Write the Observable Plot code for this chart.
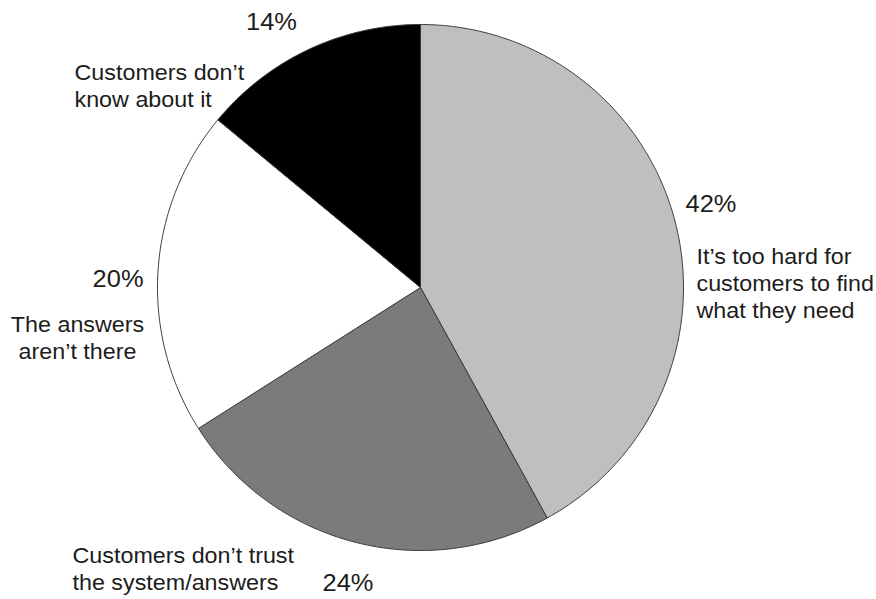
<!DOCTYPE html>
<html>
<head>
<meta charset="utf-8">
<script src="https://cdn.jsdelivr.net/npm/d3@7"></script>
<script src="https://cdn.jsdelivr.net/npm/@observablehq/plot@0.6"></script>
<style>
  html, body { margin: 0; padding: 0; background: #fff; }
  #chart svg { display: block; }
</style>
</head>
<body>
<div id="chart"></div>
<script>
// ---- data ----
const categories = [
  "It’s too hard for\ncustomers to find\nwhat they need",
  "Customers don’t trust\nthe system/answers",
  "The answers\naren’t there",
  "Customers don’t\nknow about it"
];
const values = [42, 24, 20, 14];
const percentLabels = values.map(v => v + "%");

// ---- styles / layout ----
const sliceColors = ["#bfbfbf", "#7b7b7b", "#ffffff", "#000000"];
const W = 876, H = 599;
const cx = 420, cy = 287, R = 263;
// label anchors in pixels (x, top of capitals), text-anchor
const catLayout = [
  {px: 696, py: 244, anchor: "start"},
  {px: 72,  py: 543, anchor: "start"},
  {px: 77,  py: 312, anchor: "middle"},
  {px: 74,  py: 60,  anchor: "start"}
];
const pctLayout = [
  {px: 685, py: 191, anchor: "start"},
  {px: 322, py: 570, anchor: "start"},
  {px: 143, py: 266, anchor: "end"},
  {px: 271, py: 9,   anchor: "middle"}
];
const toX = px => (px - cx) / R;
const toY = py => (cy - py) / R;

// ---- pie geometry from values ----
const arcs = d3.pie().sort(null).value(d => d)(values);
const wedgePts = [];
arcs.forEach((a, i) => {
  const key = categories[i];
  wedgePts.push({key, x: 0, y: 0});
  const n = Math.max(2, Math.ceil((a.endAngle - a.startAngle) / (Math.PI / 360)));
  for (let k = 0; k <= n; k++) {
    const t = a.startAngle + (a.endAngle - a.startAngle) * k / n;
    wedgePts.push({key, x: Math.sin(t), y: Math.cos(t)});
  }
  wedgePts.push({key, x: 0, y: 0});
});

const mkText = (texts, layout, fontSize) => ["start", "middle", "end"].map(anchor => {
  const rows = texts.map((t, i) => ({t, x: toX(layout[i].px), y: toY(layout[i].py), anchor: layout[i].anchor}))
    .filter(d => d.anchor === anchor);
  return Plot.text(rows, {
    x: "x", y: "y", text: "t",
    textAnchor: anchor, lineAnchor: "top", lineHeight: 1.23,
    fontSize, fill: "#1c1c1c", className: "lbl"
  });
});

const chart = Plot.plot({
  width: W, height: H,
  margin: 0,
  style: {fontFamily: "'Liberation Sans', Arial, Helvetica, sans-serif", background: "#fff"},
  x: {domain: [-cx / R, (W - cx) / R], range: [0, W], axis: null},
  y: {domain: [-(H - cy) / R, cy / R], range: [H, 0], axis: null},
  color: {domain: categories, range: sliceColors},
  marks: [
    Plot.line(wedgePts, {x: "x", y: "y", z: "key", fill: "key", stroke: "#3a3a3a", strokeWidth: 1, strokeLinejoin: "round", curve: "linear"}),
    ...mkText(categories, catLayout, 22),
    ...mkText(percentLabels, pctLayout, 24)
  ]
});
document.getElementById("chart").appendChild(chart);
// slight horizontal widening to match the reference typeface proportions
chart.querySelectorAll("g.lbl text").forEach(t => {
  const tr = t.getAttribute("transform") || "";
  t.setAttribute("transform", tr + " scale(1.06,1)");
});
</script>
</body>
</html>
